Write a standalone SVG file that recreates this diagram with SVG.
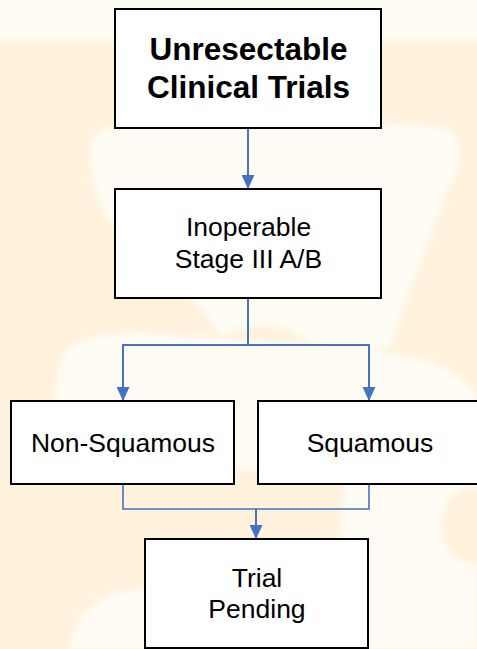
<svg xmlns="http://www.w3.org/2000/svg" width="477" height="649" viewBox="0 0 477 649">
  <defs>
    <filter id="soft" x="-10%" y="-10%" width="120%" height="120%">
      <feGaussianBlur stdDeviation="3"/>
    </filter>
    <marker id="arrow" viewBox="0 0 14 13" refX="14" refY="6.5" markerWidth="14" markerHeight="13" markerUnits="userSpaceOnUse" orient="auto">
      <path d="M0,0 L14,6.5 L0,13 Z" fill="#4472C4"/>
    </marker>
    <style>
      .box { fill: #FFFFFF; stroke: #000000; stroke-width: 2; }
      .title { font-family: "Liberation Sans", Arial, sans-serif; font-weight: bold; font-size: 31.5px; fill: #000000; text-anchor: middle; }
      .label { font-family: "Liberation Sans", Arial, sans-serif; font-size: 26.5px; fill: #000000; text-anchor: middle; }
      .conn { fill: none; stroke: #4472C4; stroke-width: 2; }
      .conn2 { fill: none; stroke: #4472C4; stroke-width: 1.6; }
      .wm { fill: #FFFCF5; }
    </style>
  </defs>

  <!-- background with faint watermark -->
  <rect x="0" y="0" width="477" height="649" fill="#FEF2DC"/>
  <g filter="url(#soft)">
    <rect class="wm" x="-10" y="-10" width="497" height="50"/>
    <path class="wm" d="M90,150 C85,125 140,118 200,122 C280,126 380,118 440,128 C470,135 462,165 448,190 C430,240 405,300 392,345 C360,360 320,350 290,330 C260,320 240,330 220,335 C200,300 150,260 110,220 C90,195 92,170 90,150 Z"/>
    <path class="wm" d="M60,360 C70,335 120,330 170,335 C240,340 330,345 400,355 C440,360 470,380 477,400 L477,470 C450,480 420,480 380,470 L60,470 C55,430 55,390 60,360 Z"/>
    <path class="wm" d="M345,470 L477,470 L477,649 L330,649 Z"/>
    <path class="wm" d="M70,649 C72,620 95,595 130,590 C200,585 280,590 340,600 L340,649 Z"/>
  </g>
  <ellipse cx="470" cy="525" rx="28" ry="38" fill="#FEF2DC" filter="url(#soft)"/>

  <!-- connectors -->
  <g id="connectors">
    <path class="conn" d="M248,128 L248,189" marker-end="url(#arrow)"/>
    <path class="conn" d="M248,298 L248,345 L123,345 L123,401" marker-end="url(#arrow)"/>
    <path class="conn" d="M248,345 L369,345 L369,401" marker-end="url(#arrow)"/>
    <path class="conn2" d="M123,484 L123,509 L369,509 L369,484"/>
    <path class="conn" d="M256,509 L256,539" marker-end="url(#arrow)"/>
  </g>

  <g id="node-unresectable">
    <rect class="box" x="115" y="9" width="266" height="119"/>
    <text class="title" x="248.5" y="60">Unresectable</text>
    <text class="title" x="248.5" y="98">Clinical Trials</text>
  </g>

  <g id="node-inoperable">
    <rect class="box" x="115" y="189" width="266" height="109"/>
    <text class="label" x="248.5" y="236">Inoperable</text>
    <text class="label" x="248.5" y="268">Stage III A/B</text>
  </g>

  <g id="node-nonsquamous">
    <rect class="box" x="11" y="401" width="223" height="83"/>
    <text class="label" x="123" y="452">Non-Squamous</text>
  </g>

  <g id="node-squamous">
    <rect class="box" x="258" y="401" width="225" height="83"/>
    <text class="label" x="370" y="452">Squamous</text>
  </g>

  <g id="node-pending">
    <rect class="box" x="145" y="539" width="223" height="109"/>
    <text class="label" x="257" y="587">Trial</text>
    <text class="label" x="257" y="618">Pending</text>
  </g>
</svg>
